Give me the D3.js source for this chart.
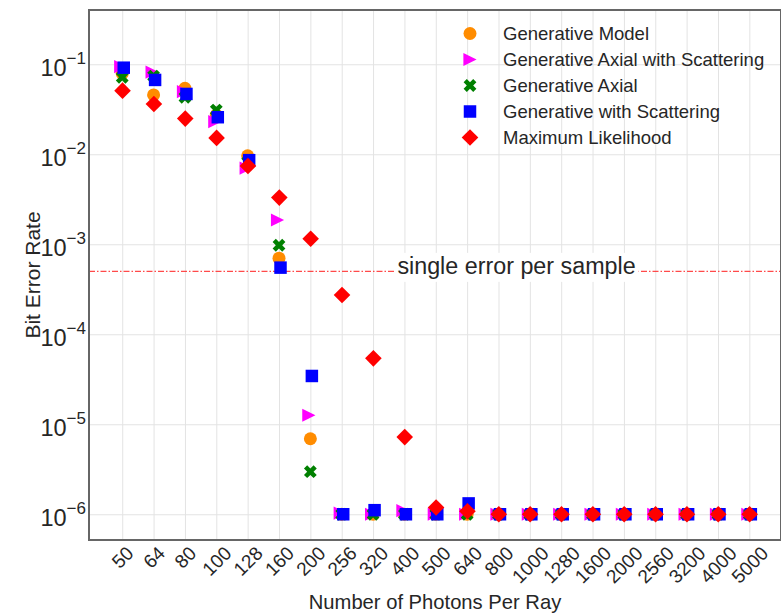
<!DOCTYPE html>
<html lang="en">
<head>
<meta charset="UTF-8">
<title>Bit Error Rate</title>
<script src="https://d3js.org/d3.v7.min.js"></script>
<style>
  body { margin: 0; background: #fff; }
  svg text { font-family: "Liberation Sans", Arial, sans-serif; fill: #262626; }
</style>
</head>
<body>
<div id="plot"></div>
<script>
"use strict";

// categories (number of photons per ray)
const photons = [50, 64, 80, 100, 128, 160, 200, 256, 320, 400, 500, 640,
                 800, 1000, 1280, 1600, 2000, 2560, 3200, 4000, 5000];

// bit error rate per series
const generativeModel = [0.079, 0.0456, 0.054, 0.0273, 0.0096, 0.0007, 6.9e-6, 1e-6, 1e-6, 1e-6, 1e-6, 1e-6,
                         1e-6, 1e-6, 1e-6, 1e-6, 1e-6, 1e-6, 1e-6, 1e-6, 1e-6];
const axialScattering = [0.094, 0.082, 0.0497, 0.023, 0.0070, 0.00186, 1.26e-5, 1.03e-6, 1e-6, 1.1e-6, 1e-6, 1e-6,
                         1e-6, 1e-6, 1e-6, 1e-6, 1e-6, 1e-6, 1e-6, 1e-6, 1e-6];
const axial = [0.0717, 0.074, 0.043, 0.031, 0.0082, 0.000975, 2.97e-6, 1e-6, 1e-6, 1e-6, 1e-6, 1e-6,
               1e-6, 1e-6, 1e-6, 1e-6, 1e-6, 1e-6, 1e-6, 1e-6, 1e-6];
const withScattering = [0.0916, 0.067, 0.0468, 0.0258, 0.0086, 0.00055, 3.44e-5, 1e-6, 1.11e-6, 1e-6, 1e-6, 1.32e-6,
                        1e-6, 1e-6, 1e-6, 1e-6, 1e-6, 1e-6, 1e-6, 1e-6, 1e-6];
const maxLikelihood = [0.0509, 0.0362, 0.0249, 0.0152, 0.0074, 0.0033, 0.00115, 2.73e-4, 5.4e-5, 7.2e-6, 1.19e-6, 1.08e-6,
                       1e-6, 1e-6, 1e-6, 1e-6, 1e-6, 1e-6, 1e-6, 1e-6, 1e-6];

const seriesNames = ['Generative Model', 'Generative Axial with Scattering', 'Generative Axial',
                     'Generative with Scattering', 'Maximum Likelihood'];
const yTicks = [1e-1, 1e-2, 1e-3, 1e-4, 1e-5, 1e-6];
const threshold = 5e-4;
const thresholdLabel = 'single error per sample';

const svgWidth = 781, svgHeight = 616;
const margin = {top: 10, right: 0, bottom: 76, left: 89};
const width = svgWidth - margin.left - margin.right;
const height = svgHeight - margin.top - margin.bottom;

const colors = ['#ff8c00', '#ff00ff', '#008000', '#0000ff', '#ff0000'];
const shapes = ['circle', 'triangle', 'x', 'square', 'diamond'];
const dodge = [0, -1.5, 0, 1.5, 0.3];
const series = [generativeModel, axialScattering, axial, withScattering, maxLikelihood]
    .map((values, i) => ({name: seriesNames[i], values: values, color: colors[i], shape: shapes[i], dx: dodge[i]}));

function translate(x, y){
    return 'translate(' + x + ', ' + y + ')';
}

function markerPath(shape){
    if(shape === 'circle') return d3.symbol(d3.symbolCircle, Math.PI * 6.5 * 6.5)();
    if(shape === 'square') return d3.symbol(d3.symbolSquare, 12.5 * 12.5)();
    if(shape === 'triangle'){
        let s = 6.6;
        return 'M' + s + ',0L' + (-s) + ',' + (-s) + 'L' + (-s) + ',' + s + 'Z';
    }
    if(shape === 'diamond'){
        let s = 8.3;
        return 'M0,' + (-s) + 'L' + s + ',0L0,' + s + 'L' + (-s) + ',0Z';
    }
    // filled X
    let s = 6.4, a = 3.2;
    let pts = [[0, -a], [s - a, -s], [s, -s + a], [a, 0], [s, s - a], [s - a, s],
               [0, a], [-s + a, s], [-s, s - a], [-a, 0], [-s, -s + a], [-s + a, -s]];
    return 'M' + pts.map(p => p.join(',')).join('L') + 'Z';
}

let x = d3.scaleLinear()
    .domain([-1.06, 21.01])
    .range([0, width]);
let y = d3.scaleLog()
    .domain([Math.pow(10, -6.286), Math.pow(10, -0.397)])
    .range([height, 0]);

let svg = d3.select('#plot')
    .append('svg')
    .attr('width', svgWidth)
    .attr('height', svgHeight);

let g = svg.append('g')
    .attr('transform', translate(margin.left, margin.top));

// grid + tick labels
let xAxis = d3.axisBottom(x)
    .tickValues(d3.range(photons.length))
    .tickSize(-height)
    .tickPadding(0)
    .tickFormat(i => photons[i]);
let gx = g.append('g')
    .attr('transform', translate(0, height))
    .call(xAxis);
gx.select('.domain').remove();
gx.selectAll('.tick line').attr('stroke', '#e3e3e3').attr('stroke-width', 1);
gx.selectAll('.tick text')
    .attr('font-size', 19)
    .attr('text-anchor', 'middle')
    .attr('dy', null)
    .attr('dominant-baseline', 'central')
    .attr('y', 0)
    .each(function(){
        let t = d3.select(this);
        let w = this.getComputedTextLength();
        let off = (w + 14) / (2 * Math.SQRT2);
        t.attr('transform', translate(0, 5 + off) + ' rotate(-45)');
    });

let yAxis = d3.axisLeft(y)
    .tickValues(yTicks)
    .tickSize(-width)
    .tickPadding(3)
    .tickFormat('');
let gy = g.append('g').call(yAxis);
gy.select('.domain').remove();
gy.selectAll('.tick line').attr('stroke', '#e3e3e3').attr('stroke-width', 1);
gy.selectAll('.tick text')
    .attr('dy', null)
    .attr('y', 11.5)
    .attr('font-size', 23.5)
    .each(function(d){
        let t = d3.select(this);
        t.append('tspan').text('10');
        t.append('tspan')
            .attr('dy', -12)
            .attr('font-size', 17)
            .text('\u2212' + Math.round(-Math.log10(d)));
    });

// threshold line
g.append('line')
    .attr('x1', 0).attr('x2', width)
    .attr('y1', y(threshold)).attr('y2', y(threshold))
    .attr('stroke', '#ff2a2a')
    .attr('stroke-opacity', 0.85)
    .attr('stroke-width', 1.3)
    .attr('stroke-dasharray', '6,2,1.5,2');

let labelX = 516.5 - margin.left;
let label = g.append('g');
let lbText = label.append('text')
    .attr('x', labelX)
    .attr('y', y(threshold) + 3)
    .attr('text-anchor', 'middle')
    .attr('font-size', 23.3)
    .text(thresholdLabel);
let bb = lbText.node().getBBox();
label.insert('rect', 'text')
    .attr('x', bb.x - 3).attr('y', y(threshold) - 18.5)
    .attr('width', bb.width + 6).attr('height', 29)
    .attr('fill', '#fff');

// points
series.forEach(s => {
    g.append('g')
        .selectAll('path')
        .data(s.values)
        .enter()
        .append('path')
        .attr('d', markerPath(s.shape))
        .attr('transform', (d, i) => translate(x(i) + s.dx, y(d)))
        .attr('fill', s.color);
});

// spines
let frame = g.append('g').attr('fill', 'none').attr('stroke', '#666').attr('stroke-width', 2);
frame.append('rect')
    .attr('x', 0).attr('y', 0)
    .attr('width', width).attr('height', height);

// legend
let legend = svg.append('g').attr('transform', translate(470, 33.5));
series.forEach((s, i) => {
    let row = legend.append('g').attr('transform', translate(0, i * 26));
    row.append('path').attr('d', markerPath(s.shape)).attr('fill', s.color);
    row.append('text')
        .attr('x', 33)
        .attr('y', 6.5)
        .attr('font-size', 18.5)
        .text(s.name);
});

// axis titles
svg.append('text')
    .attr('x', margin.left + width / 2)
    .attr('y', 609)
    .attr('text-anchor', 'middle')
    .attr('font-size', 20.2)
    .text('Number of Photons Per Ray');

svg.append('text')
    .attr('transform', translate(40, margin.top + height / 2) + ' rotate(-90)')
    .attr('text-anchor', 'middle')
    .attr('font-size', 21)
    .text('Bit Error Rate');
</script>
</body>
</html>
